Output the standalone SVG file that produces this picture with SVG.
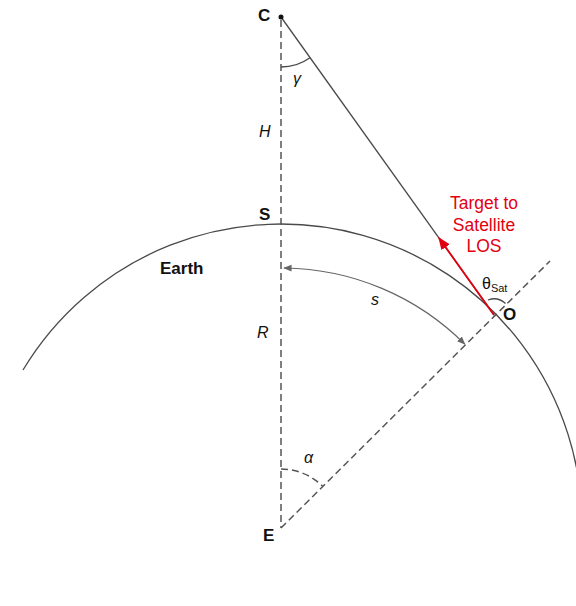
<svg xmlns="http://www.w3.org/2000/svg" width="576" height="606" viewBox="0 0 576 606">
<style>
.ln{fill:none;stroke:#4a4a4a;stroke-width:1.3}
.ds{fill:none;stroke:#555;stroke-width:1.5;stroke-dasharray:7 4}
.lbl{font-family:"Liberation Sans",Arial,sans-serif;font-size:16px;fill:#111}
.b{font-weight:bold;font-size:17px}
.i{font-style:italic}
.red{fill:#e3000f;font-family:"Liberation Sans",Arial,sans-serif;font-size:17.5px}
</style>
<defs>
<marker id="ag" viewBox="0 0 10 10" refX="9" refY="5" markerWidth="7" markerHeight="7" orient="auto-start-reverse"><path d="M0,1 L10,5 L0,9 z" fill="#666"/></marker>
<marker id="ar" viewBox="0 0 10 10" refX="9" refY="5" markerWidth="7" markerHeight="7" orient="auto"><path d="M0,1 L10,5 L0,9 z" fill="#e3000f"/></marker>
</defs>
<rect width="576" height="606" fill="#fff"/>
<g id="earth">
<path class="ln" d="M23,370 A301,301 0 0 1 582,528 L582,606"/>
<text class="lbl b" x="160" y="274">Earth</text>
</g>
<g id="connectors">
<line class="ds" x1="281" y1="20" x2="281" y2="528"/>
<line class="ds" x1="281" y1="528" x2="550" y2="261"/>
<line class="ln" x1="281" y1="17" x2="494" y2="315"/>
<line x1="494" y1="315" x2="439" y2="238" stroke="#e3000f" stroke-width="1.8" marker-end="url(#ar)"/>
<path d="M284,268 A260,260 0 0 1 464.8,344.2" fill="none" stroke="#666" stroke-width="1.2" marker-start="url(#ag)" marker-end="url(#ag)"/>
<path class="ln" d="M281,67 A50,50 0 0 0 310,57.7"/>
<path class="ds" d="M281,469 A59,59 0 0 1 322.7,486.3"/>
<path class="ln" d="M488,300 A17,17 0 0 1 505.5,303.5"/>
</g>
<g id="C"><circle cx="281" cy="17" r="2.5" fill="#111"/><text class="lbl b" x="258" y="21">C</text></g>
<g id="gamma"><text class="lbl i" x="293" y="84">γ</text></g>
<g id="H"><text class="lbl i" x="259" y="137">H</text></g>
<g id="S"><text class="lbl b" x="259" y="220">S</text></g>
<g id="R"><text class="lbl i" x="257" y="338">R</text></g>
<g id="s"><text class="lbl i" x="371" y="305">s</text></g>
<g id="alpha"><text class="lbl i" x="304" y="463">α</text></g>
<g id="E"><text class="lbl b" x="263" y="541">E</text></g>
<g id="O"><text class="lbl b" x="503" y="320">O</text></g>
<g id="theta"><text class="lbl" x="482" y="289" font-size="15">θ<tspan font-size="11" dy="3">Sat</tspan></text></g>
<g id="los">
<text class="red" text-anchor="middle" x="484" y="209">Target to</text>
<text class="red" text-anchor="middle" x="484" y="231">Satellite</text>
<text class="red" text-anchor="middle" x="484" y="252">LOS</text>
</g>
</svg>
